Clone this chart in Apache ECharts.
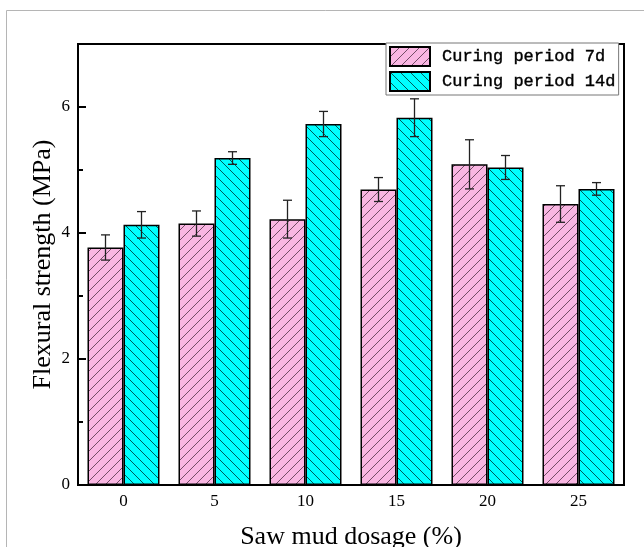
<!DOCTYPE html>
<html><head><meta charset="utf-8">
<script src="https://cdn.jsdelivr.net/npm/echarts@6/dist/echarts.min.js"></script>
<style>html,body{margin:0;padding:0;background:#fff}#c{width:644px;height:547px}</style>
</head><body><div id="c"></div>
<script>
const categories = ['0', '5', '10', '15', '20', '25'];
const seriesNames = ['Curing period 7d', 'Curing period 14d'];
const strength7d = [3.77, 4.15, 4.22, 4.69, 5.09, 4.46];
const error7d = [0.20, 0.20, 0.30, 0.19, 0.39, 0.29];
const strength14d = [4.13, 5.19, 5.73, 5.83, 5.04, 4.70];
const error14d = [0.21, 0.10, 0.20, 0.30, 0.19, 0.10];

function hatch(bg, dir, lineColor) {
  const s = 10;
  const c = document.createElement('canvas');
  c.width = s; c.height = s;
  const ctx = c.getContext('2d');
  ctx.fillStyle = bg; ctx.fillRect(0, 0, s, s);
  ctx.strokeStyle = lineColor; ctx.lineWidth = 1;
  ctx.beginPath();
  for (const o of [-s, 0, s]) {
    if (dir === '/') { ctx.moveTo(o, s); ctx.lineTo(o + s, 0); }
    else { ctx.moveTo(o, 0); ctx.lineTo(o + s, s); }
  }
  ctx.stroke();
  return { image: c, repeat: 'repeat' };
}

function errItem(offset) {
  return function (params, api) {
    const i = api.value(0), v = api.value(1), e = api.value(2);
    const top = api.coord([i, v + e]);
    const bot = api.coord([i, v - e]);
    const x = top[0] + offset;
    const cap = 4.5;
    const st = { stroke: '#222', lineWidth: 1.3 };
    return { type: 'group', children: [
      { type: 'line', shape: { x1: x, y1: top[1], x2: x, y2: bot[1] }, style: st },
      { type: 'line', shape: { x1: x - cap, y1: top[1], x2: x + cap, y2: top[1] }, style: st },
      { type: 'line', shape: { x1: x - cap, y1: bot[1], x2: x + cap, y2: bot[1] }, style: st }
    ] };
  };
}

const serif = 'Liberation Serif, Times New Roman, serif';
const chart = echarts.init(document.getElementById('c'), null, { renderer: 'canvas' });
chart.setOption({
  animation: false,
  backgroundColor: '#fff',
  graphic: [{
    type: 'rect', shape: { x: 6.5, y: 10.5, width: 700, height: 600 },
    style: { fill: 'none', stroke: '#b5b5b5', lineWidth: 1 }, z: -10
  }],
  grid: { left: 78, right: 20, top: 44, bottom: 62, outerBoundsMode: 'none', containLabel: false,
    show: true, borderColor: '#000', borderWidth: 2, backgroundColor: 'transparent' },
  legend: {
    data: seriesNames, orient: 'vertical', left: 386, top: 43,
    itemWidth: 40, itemHeight: 19, itemGap: 4,
    padding: [3, 3, 3, 3],
    borderColor: '#777', borderWidth: 1, backgroundColor: '#fff',
    icon: 'rect',
    textStyle: { fontFamily: 'Liberation Mono, monospace', fontSize: 17, color: '#000',
      textBorderColor: '#000', textBorderWidth: 0.4, padding: [0, 0, 0, 7] }
  },
  xAxis: {
    type: 'category', data: categories,
    axisLine: { lineStyle: { color: '#000', width: 2 } },
    axisTick: { inside: true, length: 6, interval: 0, lineStyle: { color: '#000', width: 2 } },
    axisLabel: { fontFamily: serif, fontSize: 17, color: '#000', margin: 8 },
    name: 'Saw mud dosage (%)', nameLocation: 'middle', nameGap: 39, nameMoveOverlap: false,
    nameTextStyle: { fontFamily: serif, fontSize: 26, color: '#000' }
  },
  yAxis: {
    type: 'value', min: 0, max: 7, interval: 2,
    axisLine: { show: true, lineStyle: { color: '#000', width: 2 } },
    axisTick: { show: true, inside: true, length: 8, lineStyle: { color: '#000', width: 2 } },
    minorTick: { show: true, splitNumber: 2, length: 5, lineStyle: { color: '#000', width: 2 } },
    splitLine: { show: false },
    axisLabel: { fontFamily: serif, fontSize: 17, color: '#000', margin: 8, formatter: v => (v === 7 ? '' : String(v)) },
    name: 'Flexural strength (MPa)', nameLocation: 'middle', nameGap: 22, nameMoveOverlap: false,
    nameTextStyle: { fontFamily: serif, fontSize: 26, color: '#000' }
  },
  series: [
    { name: seriesNames[0], type: 'bar', data: strength7d, barWidth: 36, barGap: '0%',
      itemStyle: { color: hatch('#F9B6E2', '/', 'rgba(70,40,60,0.75)'), borderColor: '#000', borderWidth: 1.5 } },
    { name: seriesNames[1], type: 'bar', data: strength14d, barWidth: 36, barGap: '0%',
      itemStyle: { color: hatch('#00FFFF', '\\', 'rgba(0,50,50,0.8)'), borderColor: '#000', borderWidth: 1.5 } },
    { type: 'custom', renderItem: errItem(-18), z: 5,
      data: categories.map((c, i) => [i, strength7d[i], error7d[i]]), encode: { x: 0, y: 1 } },
    { type: 'custom', renderItem: errItem(18), z: 5,
      data: categories.map((c, i) => [i, strength14d[i], error14d[i]]), encode: { x: 0, y: 1 } }
  ]
});
</script>
</body></html>
